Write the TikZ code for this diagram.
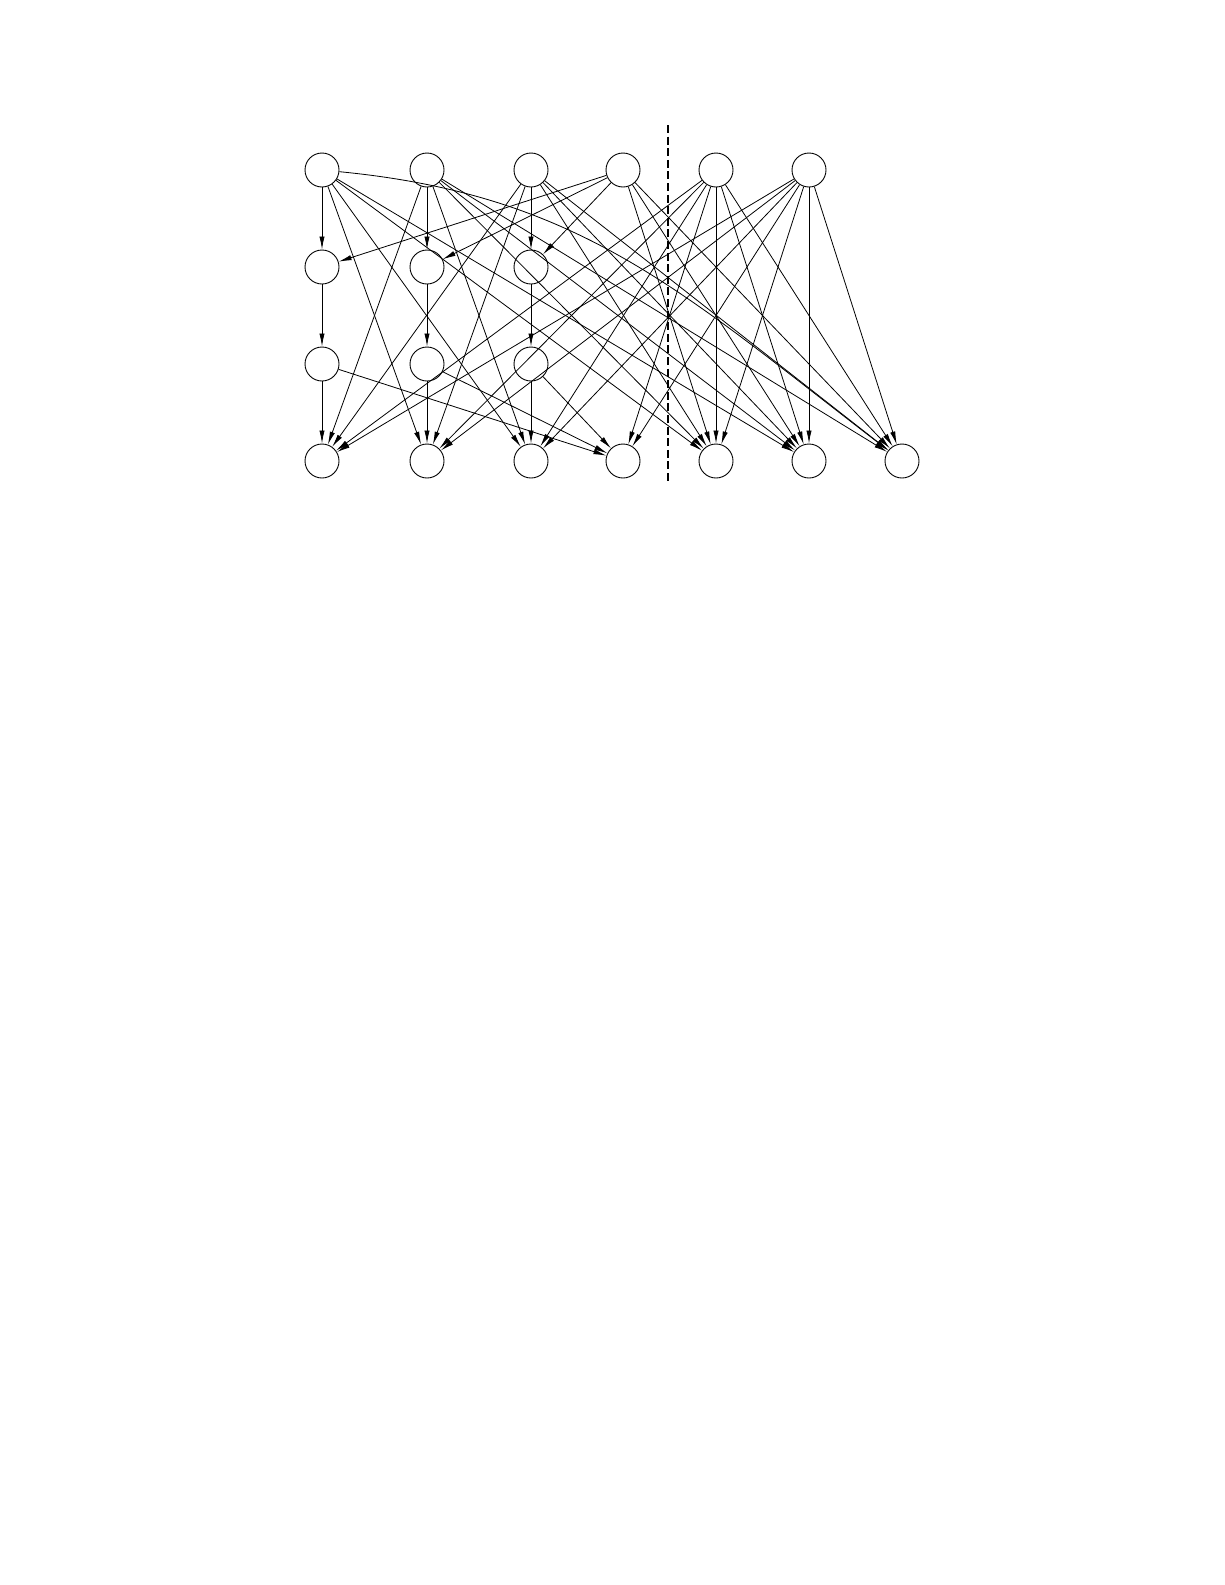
\documentclass[tikz,border=0pt]{standalone}
\usetikzlibrary{arrows.meta}

\begin{document}
\begin{tikzpicture}[
        x                = 0.5pt,
        y                = -0.5pt,
        vertex/.style    = {draw, circle, minimum size=17pt, inner sep=0pt, line width=0.45pt},
        edge/.style      = {draw, line width=0.4pt, -{Latex[length=6.5pt, width=2.6pt]}},
        cutline/.style   = {draw, line width=1pt, dash pattern=on 4pt off 1.8pt},
    ]
    \useasboundingbox (0,0) rectangle (1225,1585);

    % rows of vertices
    \foreach \name/\x in {t1/322, t2/427, t3/531, t4/623, t5/716, t6/809}
        \node[vertex] (\name) at (\x,170) {};
    \foreach \name/\x in {m1/322, m2/427, m3/531}
        \node[vertex] (\name) at (\x,267) {};
    \foreach \name/\x in {n1/322, n2/427, n3/531}
        \node[vertex] (\name) at (\x,364) {};
    \foreach \name/\x in {b1/322, b2/427, b3/531, b4/623, b5/716, b6/809, b7/902}
        \node[vertex] (\name) at (\x,461) {};

    % the cut
    \coordinate (cut top) at (668,125);
    \coordinate (cut bottom) at (668,481);
    \path[cutline] (cut top) -- (cut bottom);

    % edges
    \foreach \from/\to in {
            t1/m1, m1/n1, n1/b1, t2/m2, m2/n2, n2/b2, t3/m3, m3/n3, n3/b3,
            t4/m1, t4/m2, t4/m3, n1/b4, n2/b4, n3/b4,
            t1/b2, t1/b3, t1/b5, t1/b6,
            t2/b1, t2/b3, t2/b5, t2/b6, t2/b7,
            t3/b1, t3/b2, t3/b5, t3/b6, t3/b7,
            t4/b5, t4/b6, t4/b7,
            t5/b1, t5/b2, t5/b3, t5/b4, t5/b5, t5/b6, t5/b7,
            t6/b1, t6/b2, t6/b3, t6/b4, t6/b5, t6/b6, t6/b7}
        \path[edge] (\from) -- (\to);
    \path[edge] (t1) .. controls (580,195) and (681,291) .. (b7);
\end{tikzpicture}
\end{document}
